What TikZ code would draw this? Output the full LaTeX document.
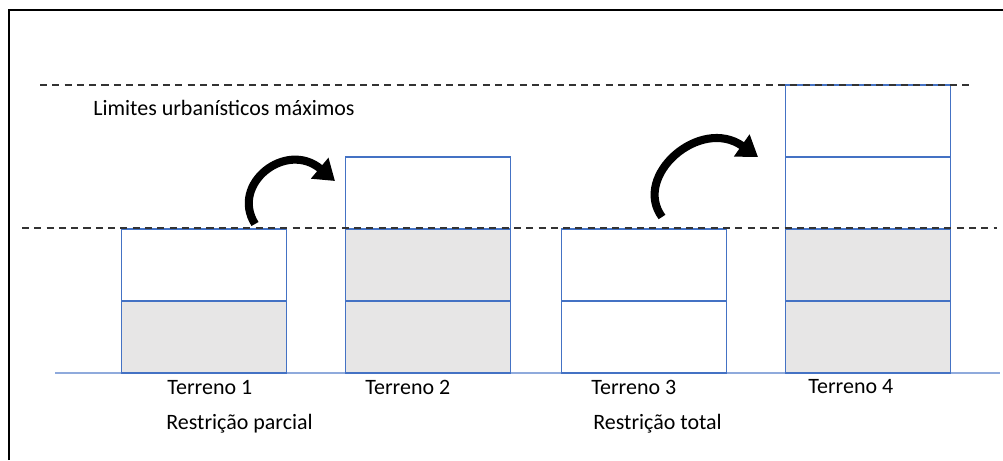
\documentclass[tikz,border=0pt]{standalone}
\usepackage{fontspec}
\setmainfont{Carlito}
\usetikzlibrary{positioning,arrows.meta}
\definecolor{boxblue}{RGB}{68,114,196}
\definecolor{groundblue}{RGB}{143,170,220}
\definecolor{floorgray}{RGB}{231,230,230}

\tikzset{
  floor/.style={draw=boxblue,line width=0.9pt,minimum width=3.3cm,
    minimum height=1.44cm,inner sep=0pt,outer sep=0pt},
  shaded/.style={floor,fill=floorgray},
  limit/.style={dashed,dash pattern=on 4pt off 3pt,line width=0.8pt,black!80},
  txt/.style={anchor=west,inner sep=0pt,font=\fontsize{12.5}{15}\selectfont},
  transfer/.style={line width=4.6pt,-{Triangle[length=0.4cm,width=0.52cm]}}
}

\begin{document}
\begin{tikzpicture}[x=0.02cm,y=-0.02cm]
      \useasboundingbox (0,0) rectangle (1003,460);
      % frame
      \draw[line width=1.4pt] (9,460) -- (9,10) -- (1003,10);

      % ground
      \coordinate (g1) at (55,373);
      \coordinate (g2) at (1000,373);
      \draw[groundblue,line width=1.1pt] (g1) -- (g2);

      % Terreno 1
      \node[shaded] (t1a) at (204,337) {};
      \node[floor,above=0pt of t1a] (t1b) {};
      % Terreno 2
      \node[shaded] (t2a) at (428,337) {};
      \node[shaded,above=0pt of t2a] (t2b) {};
      \node[floor,above=0pt of t2b] (t2c) {};
      % Terreno 3
      \node[floor] (t3a) at (644,337) {};
      \node[floor,above=0pt of t3a] (t3b) {};
      % Terreno 4
      \node[shaded] (t4a) at (868,337) {};
      \node[shaded,above=0pt of t4a] (t4b) {};
      \node[floor,above=0pt of t4b] (t4c) {};
      \node[floor,above=0pt of t4c] (t4d) {};

      % limits
      \coordinate (m1) at (40,85);
      \coordinate (m2) at (972,85);
      \coordinate (p1) at (22,228);
      \coordinate (p2) at (997,228);
      \draw[limit] (m1) -- (m2);
      \draw[limit] (p1) -- (p2);
      \node[txt] (lim) at (93,108) {Limites urbanísticos máximos};

      % transfers
      \coordinate (a1s) at (255,224);
      \coordinate (a1e) at (335,181);
      \draw[transfer] (a1s) .. controls (230,184) and (286,140) .. (a1e);
      \coordinate (a2s) at (662,217);
      \coordinate (a2e) at (758,157);
      \draw[transfer] (a2s) .. controls (632,176) and (700,116) .. (a2e);

      % labels
      \node[txt] (l1) at (167,387) {Terreno 1};
      \node[txt] (l2) at (365,387) {Terreno 2};
      \node[txt] (l3) at (591,387) {Terreno 3};
      \node[txt] (l4) at (808,387) {Terreno 4};
      \node[txt] (r1) at (166,424) {Restrição parcial};
      \node[txt] (r2) at (593,424) {Restrição total};
\end{tikzpicture}
\end{document}
